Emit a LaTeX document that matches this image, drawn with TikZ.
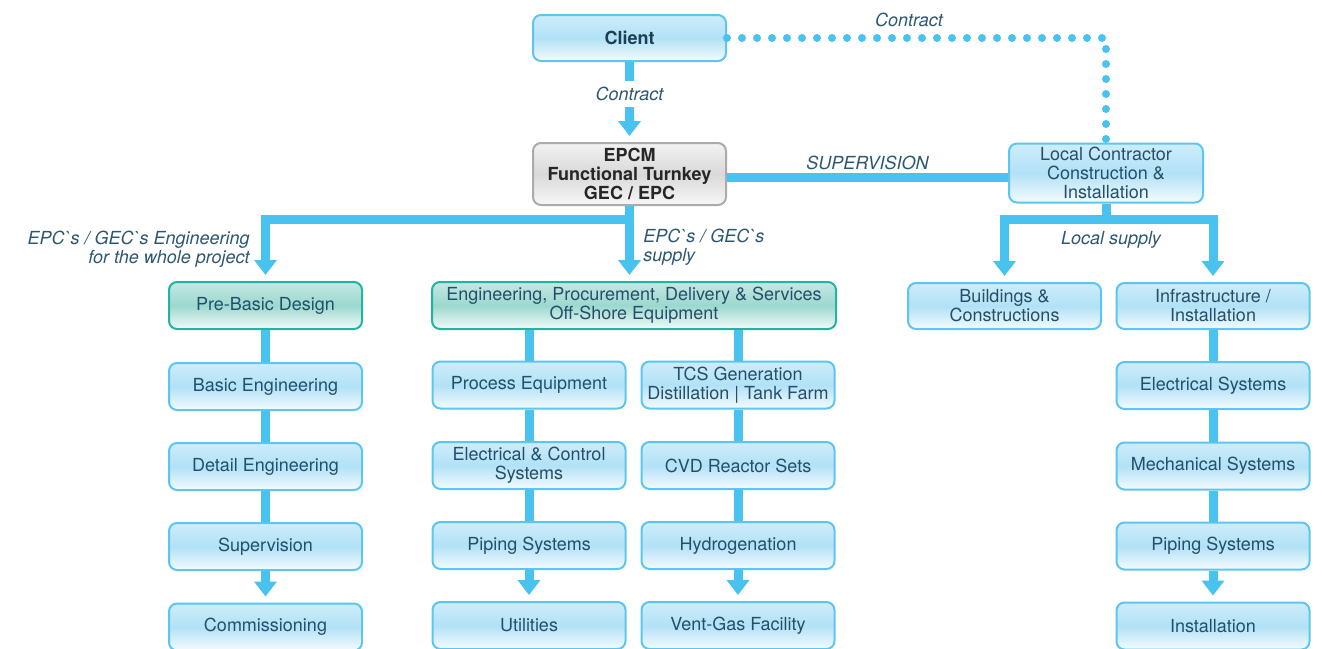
\documentclass[tikz,border=0pt]{standalone}
\usepackage{fontspec}
\setmainfont{TeX Gyre Heros}[Ligatures=TeXOff]
\usepackage{xcolor}
\usepackage{tikz}
\usetikzlibrary{arrows.meta, positioning}
\definecolor{flowblue}{HTML}{48C2EF}
\definecolor{boxline}{HTML}{5CC6F0}
\definecolor{boxtop}{HTML}{CDEDFB}
\definecolor{boxmid}{HTML}{B2E1F6}
\definecolor{boxbot}{HTML}{F4FBFE}
\definecolor{tealline}{HTML}{22B4A2}
\definecolor{tealtop}{HTML}{C2E9E3}
\definecolor{tealmid}{HTML}{9CD8CE}
\definecolor{tealbot}{HTML}{F2FAF8}
\definecolor{grayline}{HTML}{ABABAB}
\definecolor{graytop}{HTML}{F2F2F2}
\definecolor{graymid}{HTML}{D9D9D9}
\definecolor{graybot}{HTML}{F7F7F7}
\definecolor{boxtext}{HTML}{234F6B}
\definecolor{labeltext}{HTML}{2C5772}
\tikzset{
  box/.style={draw=boxline, line width=1pt, rounded corners=4pt,
    top color=boxtop, bottom color=boxbot, middle color=boxmid,
    text=boxtext, align=center, inner sep=1pt,
    minimum width=96.5pt, minimum height=23.5pt,
    font=\fontsize{9}{9.5}\selectfont},
  tealbox/.style={box, draw=tealline, top color=tealtop, bottom color=tealbot, middle color=tealmid},
  graybox/.style={box, draw=grayline, top color=graytop, bottom color=graybot, middle color=graymid,
    text=black!85, font=\fontsize{9}{9.5}\selectfont\bfseries},
  conn/.style={draw=flowblue, line width=4.5pt},
  arr/.style={-{Triangle[width=11pt,length=7.5pt]}, shorten >=3pt},
  dotline/.style={draw=flowblue, line width=4pt, line cap=round, dash pattern=on 0pt off 7.5pt},
  lbl/.style={text=labeltext, inner sep=1pt, font=\fontsize{9}{9.5}\selectfont\itshape}
}

\begin{document}
\begin{tikzpicture}[x=0.5pt, y=-0.5pt]
          \useasboundingbox (0,0) rectangle (1322,648);
          \node[box, text=boxtext!80!black, font=\fontsize{9}{9.5}\selectfont\bfseries, minimum height=23pt] (client) at (629.5,38) {Client};
          \node[graybox, minimum height=31pt] (epcm) at (629.5,174) {EPCM\\Functional Turnkey\\GEC / EPC};
          \node[box, minimum width=97pt, minimum height=29.5pt] (localcon) at (1106,173) {Local Contractor\\Construction \&\\Installation};
          \node[tealbox] (prebasic) at (265.5,305.5) {Pre-Basic Design};
          \node[tealbox, minimum width=202pt] (epds) at (634,305.5) {Engineering, Procurement, Delivery \& Services\\Off-Shore Equipment};
          \node[box, minimum height=23pt] (bldg) at (1004.5,306) {Buildings \&\\Constructions};
          \node[box, minimum height=23pt] (infra) at (1213,306) {Infrastructure /\\Installation};
          \foreach \name/\ypos/\txt in {basic/386.5/Basic Engineering, detail/466.5/Detail Engineering,
              superv/546.5/Supervision, commis/627/Commissioning}
            \node[box] (\name) at (265.5,\ypos) {\txt};
          \foreach \name/\ypos/\txt in {proceq/385/Process Equipment, elcon/465.5/Electrical \& Control\\Systems,
              piping/545.5/Piping Systems, utils/625.5/Utilities}
            \node[box] (\name) at (529,\ypos) {\txt};
          \foreach \name/\ypos/\txt in {tcs/385/TCS Generation\\Distillation | Tank Farm, cvd/465.5/CVD Reactor Sets,
              hydro/545.5/Hydrogenation, ventgas/625.5/Vent-Gas Facility}
            \node[box] (\name) at (738,\ypos) {\txt};
          \foreach \name/\ypos/\txt in {elsys/385.5/Electrical Systems, mechsys/466/Mechanical Systems,
              pipesys/546/Piping Systems, install/626/Installation}
            \node[box] (\name) at (1213,\ypos) {\txt};
          % Contracts and supervision
          \draw[conn, arr] (client) -- (epcm) node[lbl, pos=0.4, fill=white, inner ysep=3pt]{Contract};
          \draw[dotline] (client.east) -| (localcon.north) node[lbl, pos=0.24, above=2.5pt]{Contract};
          \draw[conn] ([yshift=-1.5pt]epcm.east) -- ([yshift=-1.5pt]epcm.east -| localcon.west)
            node[lbl, midway, above=0.5pt]{SUPERVISION};
          % Supply lines
          \draw[conn, arr] (epcm.south) -- ++(0,13) -| (prebasic.north);
          \draw[conn, arr] (epcm.south) -- (epcm.south |- epds.north);
          \draw[conn, arr] (localcon.south) -- ++(0,16) -| (bldg.north);
          \draw[conn, arr] (localcon.south) -- ++(0,16) -| (infra.north);
          \node[lbl, anchor=east, align=right] (engnote) at (252,249) {EPC`s / GEC`s Engineering\\for the whole project};
          \node[lbl, anchor=west, align=left] (supnote) at (641,247) {EPC`s / GEC`s\\supply};
          \node[lbl] (localnote) at (1111,240) {Local supply};
          % Columns
          \draw[conn] (epds.south -| proceq.north) -- (proceq.north);
          \draw[conn] (epds.south -| tcs.north) -- (tcs.north);
          \foreach \a/\b in {prebasic/basic, basic/detail, detail/superv, proceq/elcon, elcon/piping,
              tcs/cvd, cvd/hydro, infra/elsys, elsys/mechsys, mechsys/pipesys}
            \draw[conn] (\a) -- (\b);
          \foreach \a/\b in {superv/commis, piping/utils, hydro/ventgas, pipesys/install}
            \draw[conn, arr] (\a) -- (\b);
        \end{tikzpicture}
\end{document}
